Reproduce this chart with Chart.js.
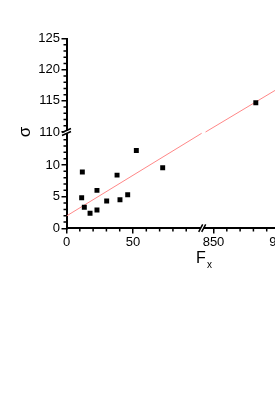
<!DOCTYPE html>
<html>
<head>
<meta charset="utf-8">
<script src="https://cdn.jsdelivr.net/npm/chart.js@4/dist/chart.umd.min.js"></script>
<style>
html, body { margin: 0; padding: 0; background: #fff; overflow: hidden; }
#wrap { width: 275px; height: 395px; overflow: hidden; position: relative; }
#c { position: absolute; left: 0; top: 0; }
</style>
</head>
<body>
<div id="wrap"><canvas id="c" width="300" height="280"></canvas></div>
<script>
// measured points (Fx, sigma)
var fxValues = [11.4, 11.9, 13.4, 17.7, 22.9, 22.9, 30.2, 38.0, 40.2, 46.0, 52.5, 72.3, 881.8];
var sigmaValues = [4.84, 8.9, 3.33, 2.38, 6.0, 2.9, 4.32, 8.4, 4.53, 5.3, 12.3, 9.57, 114.7];

// linear fit at its ends and at the breaks
var fitX = [0, 101.6, 844, 905];
var fitY = [1.96, 15, 110, 117.8];

var xTickValues = [0, 50, 850, 900];
var yTickValues = [0, 5, 10, 110, 115, 120, 125];

// broken axes: lower part kept as is, upper part shifted down to meet it
var X_CUT_LO = 102, X_CUT_HI = 841.5;
var Y_CUT_LO = 15.2, Y_CUT_HI = 110, Y_UP = 0.982;

function tx(v) { return v <= X_CUT_LO ? v : X_CUT_LO + (v - X_CUT_HI); }
function ty(v) { return v <= Y_CUT_LO ? v : Y_CUT_LO + (v - Y_CUT_HI) * Y_UP; }

var points = fxValues.map(function(x, i) { return { x: tx(x), y: ty(sigmaValues[i]) }; });
var fitLine = [
  { x: tx(fitX[0]), y: ty(fitY[0]) },
  { x: tx(fitX[1]), y: ty(fitY[1]) },
  { x: tx(fitX[1]) + 0.5, y: null },
  { x: tx(fitX[2]), y: ty(fitY[2]) },
  { x: tx(fitX[3]), y: ty(fitY[3]) }
];

var xMinor = [], yMinor = [];
for (var i = 10; i <= 90; i += 10) { if (i !== 50) xMinor.push(i); }
for (i = 860; i <= 890; i += 10) xMinor.push(i);
for (i = 1; i <= 14; i++) { if (i % 5) yMinor.push(i); }
for (i = 111; i <= 124; i++) { if (i % 5) yMinor.push(i); }

var FONT = 'Liberation Sans, Arial, sans-serif';

var extras = {
  id: 'extras',
  afterDraw: function(chart) {
    var ctx = chart.ctx;
    var xs = chart.scales.x, ys = chart.scales.y;
    var a = chart.chartArea;
    ctx.save();
    ctx.strokeStyle = '#000';
    ctx.lineWidth = 1.5;
    ctx.beginPath();
    xMinor.forEach(function(v) {
      var px = xs.getPixelForValue(tx(v));
      ctx.moveTo(px, a.bottom);
      ctx.lineTo(px, a.bottom + 3);
    });
    yMinor.forEach(function(v) {
      var py = ys.getPixelForValue(ty(v));
      ctx.moveTo(a.left, py);
      ctx.lineTo(a.left - 3, py);
    });
    ctx.stroke();

    // y axis break
    var by = ys.getPixelForValue(Y_CUT_LO);
    ctx.fillStyle = '#fff';
    ctx.fillRect(a.left - 2, by - 1.5, 4, 3);
    ctx.beginPath();
    ctx.moveTo(a.left - 4.5, by + 0.5); ctx.lineTo(a.left + 4.5, by - 3.5);
    ctx.moveTo(a.left - 4.5, by + 3.5); ctx.lineTo(a.left + 4.5, by - 0.5);
    ctx.stroke();

    // x axis break
    var bx = xs.getPixelForValue(X_CUT_LO);
    ctx.fillRect(bx - 1.5, a.bottom - 2, 3, 4);
    ctx.beginPath();
    ctx.moveTo(bx - 3.5, a.bottom + 3.5); ctx.lineTo(bx + 0.5, a.bottom - 4);
    ctx.moveTo(bx - 0.5, a.bottom + 3.5); ctx.lineTo(bx + 3.5, a.bottom - 4);
    ctx.stroke();

    // axis titles
    ctx.fillStyle = '#000';
    ctx.textBaseline = 'alphabetic';
    ctx.font = '17px ' + FONT;
    ctx.save();
    ctx.translate(30, by);
    ctx.rotate(-Math.PI / 2);
    ctx.textAlign = 'center';
    ctx.fillText('σ', 0, 0);
    ctx.restore();
    ctx.textAlign = 'left';
    ctx.font = '16px ' + FONT;
    ctx.fillText('F', 196, 263);
    ctx.font = '10px ' + FONT;
    ctx.fillText('x', 207, 268);
    ctx.restore();
  }
};

var axisGrid = { drawOnChartArea: false, drawTicks: true, tickLength: 5, color: '#000', lineWidth: 1.5 };
var axisBorder = { display: true, color: '#000', width: 2 };
var tickFont = { family: FONT, size: 13 };

new Chart(document.getElementById('c'), {
  type: 'scatter',
  data: {
    datasets: [
      {
        data: points,
        pointStyle: 'rect',
        pointRadius: 3.5,
        backgroundColor: '#000',
        borderColor: '#000',
        borderWidth: 0,
        order: 1
      },
      {
        type: 'line',
        data: fitLine,
        borderColor: 'rgb(255,135,135)',
        borderWidth: 1,
        pointRadius: 0,
        spanGaps: false,
        fill: false,
        order: 2
      }
    ]
  },
  options: {
    responsive: false,
    animation: false,
    devicePixelRatio: 1,
    layout: { padding: { left: 0, top: 38.5, right: 12, bottom: 0 } },
    plugins: { legend: { display: false }, tooltip: { enabled: false } },
    scales: {
      x: {
        type: 'linear',
        min: 0,
        max: 166.5,
        grid: axisGrid,
        border: axisBorder,
        ticks: {
          padding: 1,
          color: '#000',
          font: tickFont,
          autoSkip: false,
          maxRotation: 0,
          callback: function(v, idx) { return String(xTickValues[idx]); }
        },
        afterBuildTicks: function(scale) {
          scale.ticks = xTickValues.map(function(v) { return { value: tx(v) }; });
        },
        afterFit: function(scale) { scale.height = 51.6; }
      },
      y: {
        type: 'linear',
        min: 0,
        max: 29.95,
        grid: axisGrid,
        border: axisBorder,
        ticks: {
          padding: 1.5,
          color: '#000',
          font: tickFont,
          autoSkip: false,
          callback: function(v, idx) { return String(yTickValues[idx]); }
        },
        afterBuildTicks: function(scale) {
          scale.ticks = yTickValues.map(function(v) { return { value: ty(v) }; });
        },
        afterFit: function(scale) { scale.width = 66.5; }
      }
    }
  },
  plugins: [extras]
});
</script>
</body>
</html>
